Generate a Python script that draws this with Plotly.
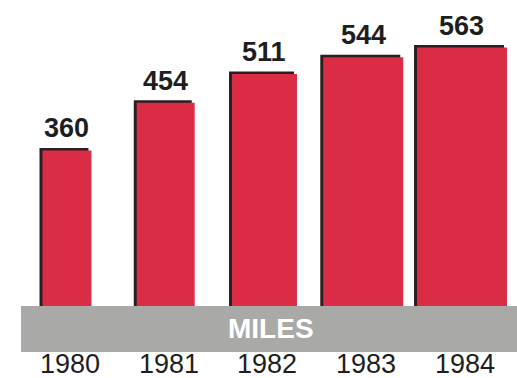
import plotly.graph_objects as go

years = ["1980", "1981", "1982", "1983", "1984"]
miles = [360, 454, 511, 544, 563]
band_label = "MILES"

# style
bar_widths = [0.496, 0.587, 0.658, 0.81, 0.911]
red = "#DB2C45"
shadow = "#2A1F20"
gray = "#A9AAA7"
sans = "Liberation Sans, Arial, sans-serif"

xs = list(range(len(years)))
sh_dx = 0.03
sh_dy = 5

fig = go.Figure()
fig.add_trace(go.Bar(
    x=xs, y=[v + sh_dy for v in miles], width=bar_widths,
    offset=[-w / 2 - sh_dx for w in bar_widths],
    marker=dict(color=shadow, line=dict(width=0)),
    hoverinfo="skip", showlegend=False,
))
fig.add_trace(go.Bar(
    x=xs, y=miles, width=bar_widths,
    offset=[-w / 2 for w in bar_widths],
    marker=dict(color=red, line=dict(width=0)),
    showlegend=False,
))

for i, v in enumerate(miles):
    fig.add_annotation(x=i, y=v, xref="x", yref="y", text=str(v),
                       showarrow=False, yanchor="bottom", yshift=5,
                       font=dict(family=sans, size=27, color="#1e1e1e",
                                 weight="bold"))

for i, yr in enumerate(years):
    fig.add_annotation(x=i, y=1 - 364 / 378, xref="x", yref="paper", text=yr,
                       showarrow=False, yanchor="middle", xshift=3,
                       font=dict(family=sans, size=27, color="#1e1e1e"))

fig.add_shape(type="rect", xref="paper", yref="paper",
              x0=21 / 517, x1=1.0, y0=1 - 352 / 378, y1=1 - 306 / 378,
              fillcolor=gray, line=dict(width=0), layer="above")

fig.add_annotation(x=0.524, y=1 - 328 / 378, xref="paper", yref="paper",
                   text=band_label, showarrow=False, yanchor="middle",
                   font=dict(family=sans, size=28, color="white", weight="bold"))

fig.update_layout(
    width=517, height=378,
    margin=dict(l=0, r=0, t=0, b=0),
    paper_bgcolor="white", plot_bgcolor="white",
    barmode="overlay",
    xaxis=dict(range=[-0.678, 4.557], visible=False, fixedrange=True),
    yaxis=dict(range=[-88.8, 656.8], visible=False, fixedrange=True),
)

fig.write_html("out.html")
